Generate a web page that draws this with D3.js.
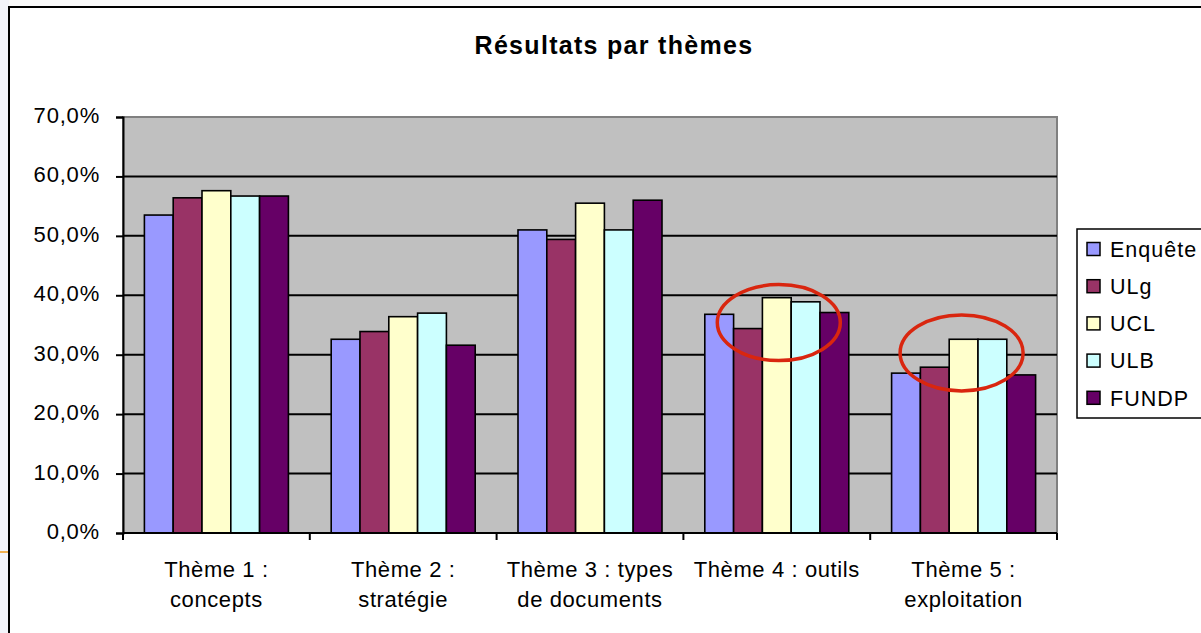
<!DOCTYPE html>
<html>
<head>
<meta charset="utf-8">
<script src="https://cdn.jsdelivr.net/npm/d3@7"></script>
<style>
  html, body { margin: 0; padding: 0; background: #fafafa; }
  svg { display: block; }
  text { font-family: "Liberation Sans", Arial, sans-serif; fill: #000; }
</style>
</head>
<body>
<script>
// ---- data ----
const categories = ["Thème 1 : concepts", "Thème 2 : stratégie", "Thème 3 : types de documents", "Thème 4 : outils", "Thème 5 : exploitation"];
const categoryLines = [["Thème 1 :", "concepts"], ["Thème 2 :", "stratégie"], ["Thème 3 : types", "de documents"], ["Thème 4 : outils"], ["Thème 5 :", "exploitation"]];
const seriesNames = ["Enquête", "ULg", "UCL", "ULB", "FUNDP"];
const seriesColors = ["#9999ff", "#993366", "#ffffcc", "#ccffff", "#660066"];
const enquete = [53.5, 32.6, 51.0, 36.8, 26.9];
const ulg     = [56.4, 33.9, 49.4, 34.4, 27.9];
const ucl     = [57.6, 36.4, 55.5, 39.6, 32.6];
const ulb     = [56.7, 37.0, 51.0, 38.9, 32.6];
const fundp   = [56.7, 31.6, 56.0, 37.1, 26.6];
const seriesValues = [enquete, ulg, ucl, ulb, fundp];
const yTicks = [0, 10, 20, 30, 40, 50, 60, 70];
const title = "Résultats par thèmes";
// highlight ellipses (annotation): category index, centre value
const highlightCats = [3, 4];
const highlightValues = [35.4, 30.3];

// ---- layout ----
const W = 1201, H = 633;
const plot = { left: 123, right: 1057, top: 117, bottom: 533 };

const svg = d3.select("body").append("svg").attr("width", W).attr("height", H);

// background outside the frame
svg.append("rect").attr("x", 0).attr("y", 0).attr("width", W).attr("height", H).attr("fill", "#fafafa");
svg.append("rect").attr("x", 0).attr("y", 0).attr("width", 9).attr("height", H).attr("fill", "#f3f4fa");
svg.append("line").attr("x1", 0).attr("x2", 9).attr("y1", 552).attr("y2", 552)
  .attr("stroke", "#f0b050").attr("stroke-width", 2);
// chart frame
svg.append("rect").attr("x", 9).attr("y", 7).attr("width", W + 20).attr("height", H + 20)
  .attr("fill", "#ffffff").attr("stroke", "#000").attr("stroke-width", 2);

const x0 = d3.scaleBand().domain(categories).range([plot.left, plot.right]).padding(0);
const x1 = d3.scaleBand().domain(seriesNames).range([0, x0.bandwidth()]).paddingInner(0).paddingOuter(0.743);
const y = d3.scaleLinear().domain([0, 70]).range([plot.bottom, plot.top]);
const color = d3.scaleOrdinal().domain(seriesNames).range(seriesColors);

// plot area
svg.append("rect").attr("x", plot.left).attr("y", plot.top)
  .attr("width", plot.right - plot.left).attr("height", plot.bottom - plot.top)
  .attr("fill", "#c0c0c0").attr("stroke", "#808080").attr("stroke-width", 2);

// gridlines
svg.append("g").selectAll("line").data(yTicks.filter(t => t > 0 && t < 70)).join("line")
  .attr("x1", plot.left).attr("x2", plot.right)
  .attr("y1", d => y(d)).attr("y2", d => y(d))
  .attr("stroke", "#000").attr("stroke-width", 2);

// y axis
const fmt = d => d3.format(".1f")(d).replace(".", ",") + "%";
const yAxis = d3.axisLeft(y).tickValues(yTicks).tickFormat(fmt).tickSize(7).tickPadding(16);
const gy = svg.append("g").attr("transform", `translate(${plot.left},0)`).call(yAxis);
gy.select(".domain").attr("stroke", "#000").attr("stroke-width", 2);
gy.selectAll(".tick line").attr("stroke", "#000").attr("stroke-width", 2);
gy.selectAll(".tick text").attr("font-size", 22).attr("letter-spacing", 0.8)
  .attr("font-family", "Liberation Sans, Arial, sans-serif").attr("dy", "0.25em");

// bars
const groups = svg.append("g").selectAll("g").data(categories).join("g")
  .attr("transform", d => `translate(${x0(d)},0)`);
groups.selectAll("rect").data((c, i) => seriesNames.map((s, j) => ({ s, v: seriesValues[j][i] }))).join("rect")
  .attr("x", d => x1(d.s)).attr("width", x1.bandwidth())
  .attr("y", d => y(d.v)).attr("height", d => y(0) - y(d.v))
  .attr("fill", d => color(d.s)).attr("stroke", "#000").attr("stroke-width", 1.6);

// x axis
const xAxisLine = svg.append("g");
xAxisLine.append("line").attr("x1", plot.left).attr("x2", plot.right).attr("y1", plot.bottom).attr("y2", plot.bottom)
  .attr("stroke", "#000").attr("stroke-width", 2);
const boundaries = categories.map(c => x0(c)).concat([x0(categories[categories.length - 1]) + x0.bandwidth()]);
xAxisLine.selectAll("line.t").data(boundaries).join("line").attr("class", "t")
  .attr("x1", d => d).attr("x2", d => d).attr("y1", plot.bottom).attr("y2", plot.bottom + 7)
  .attr("stroke", "#000").attr("stroke-width", 2);
const xl = svg.append("g").selectAll("text").data(categories).join("text")
  .attr("x", d => x0(d) + x0.bandwidth() / 2).attr("y", 577)
  .attr("text-anchor", "middle").attr("font-size", 22).attr("letter-spacing", 0.6);
xl.each(function(d, i) {
  const t = d3.select(this);
  categoryLines[i].forEach((line, k) => {
    t.append("tspan").attr("x", x0(d) + x0.bandwidth() / 2).attr("dy", k === 0 ? 0 : 30).text(line);
  });
});

// title
svg.append("text").attr("x", 614).attr("y", 54).attr("text-anchor", "middle")
  .attr("font-size", 25).attr("font-weight", "bold").attr("letter-spacing", 1.3).text(title);

// legend
const lg = svg.append("g");
lg.append("rect").attr("x", 1077).attr("y", 229).attr("width", 140).attr("height", 189)
  .attr("fill", "#fff").attr("stroke", "#000").attr("stroke-width", 1.5);
const li = lg.selectAll("g").data(seriesNames).join("g")
  .attr("transform", (d, i) => `translate(1087,${249 + i * 37.2})`);
li.append("rect").attr("x", 0).attr("y", -6.5).attr("width", 13).attr("height", 13)
  .attr("fill", d => color(d)).attr("stroke", "#000").attr("stroke-width", 1.5);
li.append("text").attr("x", 23).attr("y", 0).attr("dy", "0.36em")
  .attr("font-size", 21.5).attr("letter-spacing", 1).text(d => d);

// highlight ellipses
svg.append("g").selectAll("ellipse").data(highlightCats).join("ellipse")
  .attr("cx", (d, i) => x0(categories[d]) + x0.bandwidth() / 2 + (i === 0 ? 2 : -2))
  .attr("cy", (d, i) => y(highlightValues[i]))
  .attr("rx", 61.5).attr("ry", 38)
  .attr("fill", "none").attr("stroke", "#d9260f").attr("stroke-width", 3.5);
</script>
</body>
</html>
